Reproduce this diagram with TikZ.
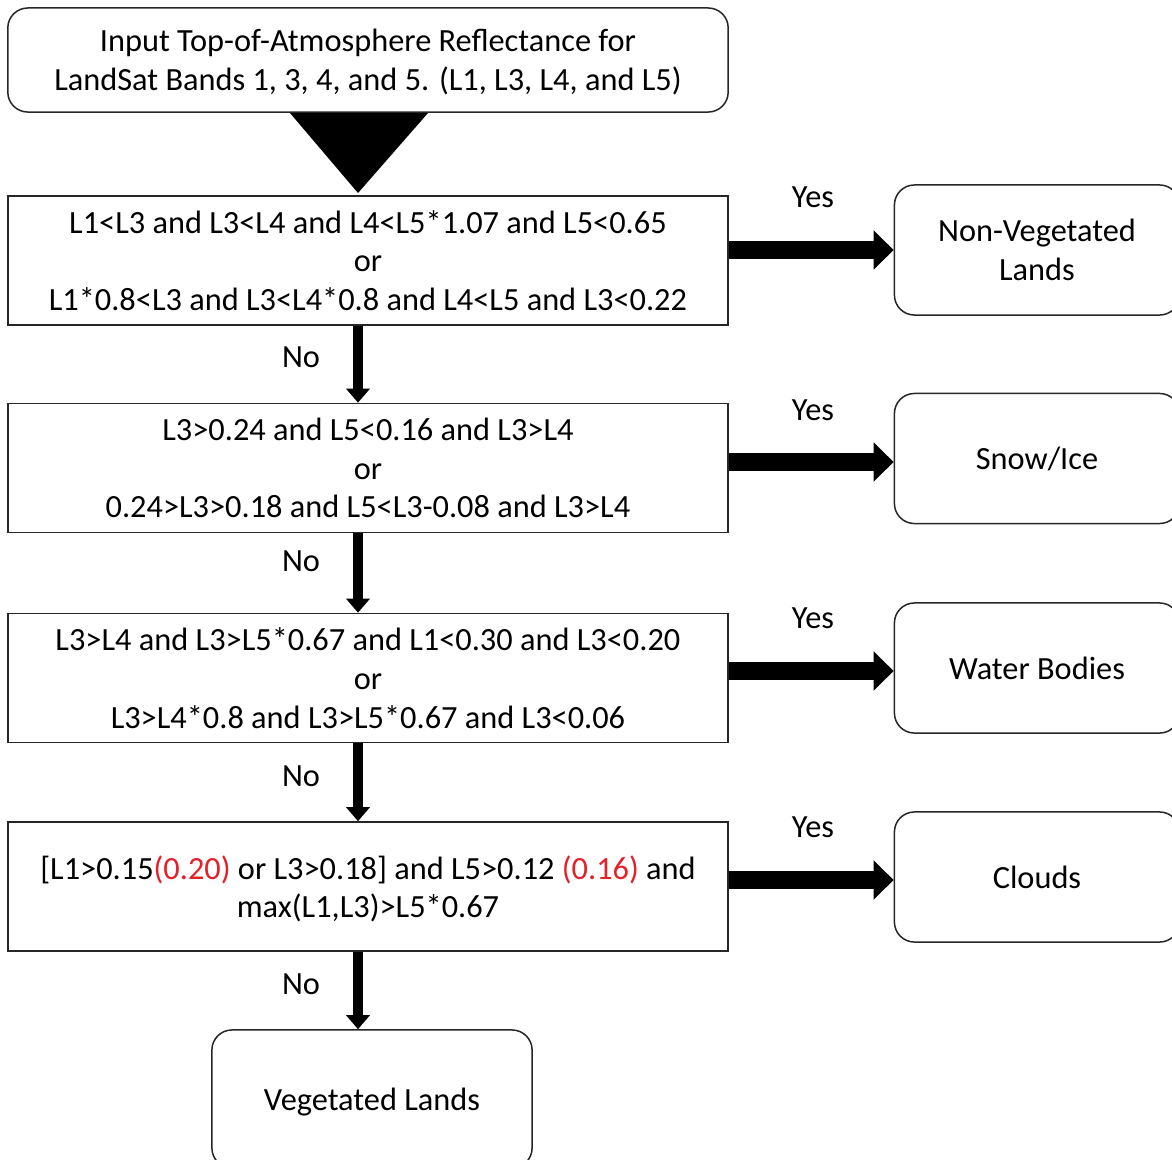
\documentclass[tikz,border=0pt]{standalone}
\usepackage{fontspec}
\setmainfont{Carlito}
\usetikzlibrary{arrows.meta}
\definecolor{flagred}{RGB}{228,32,40}
\tikzset{
  test/.style={draw=black!85, line width=0.15mm, minimum width=7.2cm, minimum height=1.29cm, align=center, inner sep=0pt, text depth=0pt},
  ends/.style={test, rounded corners=2mm},
  yesarrow/.style={line width=1.8mm, -{Triangle[length=2mm,width=3.8mm]}},
  noarrow/.style={line width=1mm, -{Triangle[length=1.4mm,width=2.3mm]}},
}
\begin{document}
\begin{tikzpicture}[x=0.01cm, y=-0.01cm, font=\fontsize{9.2}{11}\selectfont]
        \useasboundingbox (0,0) rectangle (1172,1160);
        \coordinate (spine) at (358,0);
        \begin{scope}[every node/.style={fill=white}]
            \node[ends, minimum height=1.04cm] (inp) at (368,60) {Input Top-of-Atmosphere Reflectance for\\LandSat Bands 1, 3, 4, and 5. (L1, L3, L4, and L5)};
            \node[test] (c1) at (368,260.5) {L1<L3 and L3<L4 and L4<L5*1.07 and L5<0.65\\or\\L1*0.8<L3 and L3<L4*0.8 and L4<L5 and L3<0.22};
            \node[test] (c2) at (368,468) {L3>0.24 and L5<0.16 and L3>L4\\or\\0.24>L3>0.18 and L5<L3-0.08 and L3>L4};
            \node[test] (c3) at (368,678) {L3>L4 and L3>L5*0.67 and L1<0.30 and L3<0.20\\or\\L3>L4*0.8 and L3>L5*0.67 and L3<0.06};
            \node[test] (c4) at (368,886.5) {[L1>0.15\textcolor{flagred}{(0.20)} or L3>0.18] and L5>0.12 \textcolor{flagred}{(0.16)} and\\max(L1,L3)>L5*0.67};
            \node[ends, minimum width=2.85cm, minimum height=1.3cm] (nveg) at (1037,250) {Non-Vegetated\\Lands};
            \node[ends, minimum width=2.85cm, minimum height=1.3cm] (snow) at (1037,458.5) {Snow/Ice};
            \node[ends, minimum width=2.85cm, minimum height=1.3cm] (water) at (1037,668) {Water Bodies};
            \node[ends, minimum width=2.85cm, minimum height=1.3cm] (cloud) at (1037,877) {Clouds};
            \node[ends, minimum width=3.2cm, minimum height=1.38cm] (veg) at (372,1099) {Vegetated Lands};
        \end{scope}
        \fill (290,113) -- (428,113) -- (358,193) -- cycle;
        \begin{scope}
            \node (y1) at (813,197) {Yes};
            \node (y2) at (813,410) {Yes};
            \node (y3) at (813,618) {Yes};
            \node (y4) at (813,827) {Yes};
            \node (n1) at (301,357) {No};
            \node (n2) at (301,561) {No};
            \node (n3) at (301,776) {No};
            \node (n4) at (301,984) {No};
        \end{scope}
        \begin{scope}
            \path [yesarrow] (c1.east |- nveg.west) edge (nveg.west);
            \path [yesarrow] (c2.east |- 0,462) edge (snow.west |- 0,462);
            \path [yesarrow] (c3.east |- 0,671) edge (water.west |- 0,671);
            \path [yesarrow] (c4.east |- 0,880) edge (cloud.west |- 0,880);
            \path [noarrow] (c1.south -| spine) edge (c2.north -| spine);
            \path [noarrow] (c2.south -| spine) edge (c3.north -| spine);
            \path [noarrow] (c3.south -| spine) edge (c4.north -| spine);
            \path [noarrow] (c4.south -| spine) edge (veg.north -| spine);
        \end{scope}
    \end{tikzpicture}
\end{document}
